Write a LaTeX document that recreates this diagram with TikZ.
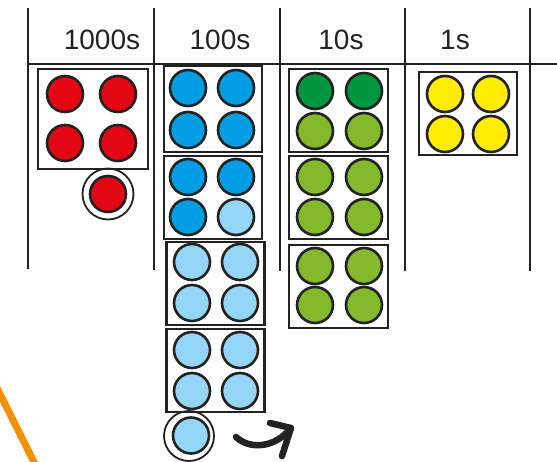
\documentclass[tikz,border=0pt]{standalone}
\usepackage{fontspec}
\setmainfont{Liberation Sans}
\definecolor{cred}{HTML}{E30613}
\definecolor{cblue}{HTML}{009FE3}
\definecolor{clblue}{HTML}{95D5F5}
\definecolor{cdgreen}{HTML}{009640}
\definecolor{clgreen}{HTML}{84B92B}
\definecolor{cyellow}{HTML}{FFED00}
\definecolor{corange}{HTML}{F39200}
\definecolor{cline}{HTML}{222222}
\tikzset{
  grid/.style={draw=cline, line width=2.4pt},
  box/.style={draw=cline, line width=2.6pt, rectangle, inner sep=0pt},
  counter/.style={draw=cline, line width=2.6pt, circle, inner sep=0pt, minimum size=36pt},
  ring/.style={draw=cline, line width=1.8pt, circle, inner sep=0pt, minimum size=51pt},
  head/.style={font=\fontsize{28}{30}\selectfont, anchor=base, text=cline},
}
\begin{document}
\begin{tikzpicture}[x=1pt,y=-1pt]
\useasboundingbox (0,0) rectangle (557,462);
% grid
\coordinate (v1t) at (28,8);   \coordinate (v1b) at (28,269);
\coordinate (v2t) at (154,8);  \coordinate (v2b) at (154,270);
\coordinate (v3t) at (280,8);  \coordinate (v3b) at (280,271);
\coordinate (v4t) at (405,8);  \coordinate (v4b) at (405,271);
\coordinate (v5t) at (530,8);  \coordinate (v5b) at (530,271);
\coordinate (hl) at (28,64);   \coordinate (hr) at (557,64);
\draw[grid] (v1t) -- (v1b);
\draw[grid] (v2t) -- (v2b);
\draw[grid] (v3t) -- (v3b);
\draw[grid] (v4t) -- (v4b);
\draw[grid] (v5t) -- (v5b);
\draw[grid] (hl) -- (hr);
% headers
\node[head] (h1000) at (102,50) {1000s};
\node[head] (h100) at (220,50) {100s};
\node[head] (h10) at (341,50) {10s};
\node[head] (h1) at (455,50) {1s};
% thousands
\node[box, minimum width=110pt, minimum height=100pt] (rbox) at (93,119) {};
\node[counter, fill=cred] (r1) at (65,94) {};
\node[counter, fill=cred] (r2) at (118,94) {};
\node[counter, fill=cred] (r3) at (65,143) {};
\node[counter, fill=cred] (r4) at (118,143) {};
\node[ring] (rring) at (108,194) {};
\node[counter, fill=cred] (r5) at (108,194) {};
% hundreds
\node[box, minimum width=98pt, minimum height=86pt] (bbox1) at (213,109) {};
\node[counter, fill=cblue] (b1) at (188,88) {};
\node[counter, fill=cblue] (b2) at (236,88) {};
\node[counter, fill=cblue] (b3) at (188,130) {};
\node[counter, fill=cblue] (b4) at (236,130) {};
\node[box, minimum width=98pt, minimum height=83pt] (bbox2) at (213,197.5) {};
\node[counter, fill=cblue] (b5) at (188,177) {};
\node[counter, fill=cblue] (b6) at (236,177) {};
\node[counter, fill=cblue] (b7) at (188,217) {};
\node[counter, fill=clblue] (b8) at (236,217) {};
\node[box, minimum width=98pt, minimum height=83pt] (bbox3) at (215.5,283.5) {};
\node[counter, fill=clblue] (b9) at (192,262) {};
\node[counter, fill=clblue] (b10) at (240,262) {};
\node[counter, fill=clblue] (b11) at (192,303) {};
\node[counter, fill=clblue] (b12) at (240,303) {};
\node[box, minimum width=98pt, minimum height=83pt] (bbox4) at (215.5,370.5) {};
\node[counter, fill=clblue] (b13) at (192,350) {};
\node[counter, fill=clblue] (b14) at (240,350) {};
\node[counter, fill=clblue] (b15) at (192,391) {};
\node[counter, fill=clblue] (b16) at (240,391) {};
\node[ring, minimum size=50pt] (bring) at (189,436) {};
\node[counter, fill=clblue, minimum size=36pt] (b17) at (191,435.5) {};
% exchange arrow
\coordinate (a0) at (236,437);
\coordinate (a1) at (291,428);
\coordinate (ah1) at (270,423);
\coordinate (ah2) at (282,456);
\draw[line width=6.5pt, cline, line cap=round] (a0) .. controls (250,450) and (275,448) .. (a1);
\draw[line width=6.5pt, cline, line cap=round, line join=round] (ah1) -- (a1) -- (ah2);
% tens
\node[box, minimum width=99pt, minimum height=83pt] (gbox1) at (338.5,110.5) {};
\node[counter, fill=cdgreen] (g1) at (315,91) {};
\node[counter, fill=cdgreen] (g2) at (364,91) {};
\node[counter, fill=clgreen] (g3) at (315,131) {};
\node[counter, fill=clgreen] (g4) at (364,131) {};
\node[box, minimum width=99pt, minimum height=83pt] (gbox2) at (338.5,197.5) {};
\node[counter, fill=clgreen] (g5) at (315,177) {};
\node[counter, fill=clgreen] (g6) at (364,177) {};
\node[counter, fill=clgreen] (g7) at (315,217) {};
\node[counter, fill=clgreen] (g8) at (364,217) {};
\node[box, minimum width=99pt, minimum height=83pt] (gbox3) at (338.5,286.5) {};
\node[counter, fill=clgreen] (g9) at (315,266) {};
\node[counter, fill=clgreen] (g10) at (364,266) {};
\node[counter, fill=clgreen] (g11) at (315,305) {};
\node[counter, fill=clgreen] (g12) at (364,305) {};
% ones
\node[box, minimum width=98pt, minimum height=83pt] (ybox) at (468,113.5) {};
\node[counter, fill=cyellow] (y1) at (445,94) {};
\node[counter, fill=cyellow] (y2) at (491,94) {};
\node[counter, fill=cyellow] (y3) at (445,134) {};
\node[counter, fill=cyellow] (y4) at (491,134) {};
% orange stroke
\coordinate (o1) at (-4,386);
\coordinate (o2) at (36,466);
\draw[corange, line width=7pt] (o1) -- (o2);
\end{tikzpicture}
\end{document}
